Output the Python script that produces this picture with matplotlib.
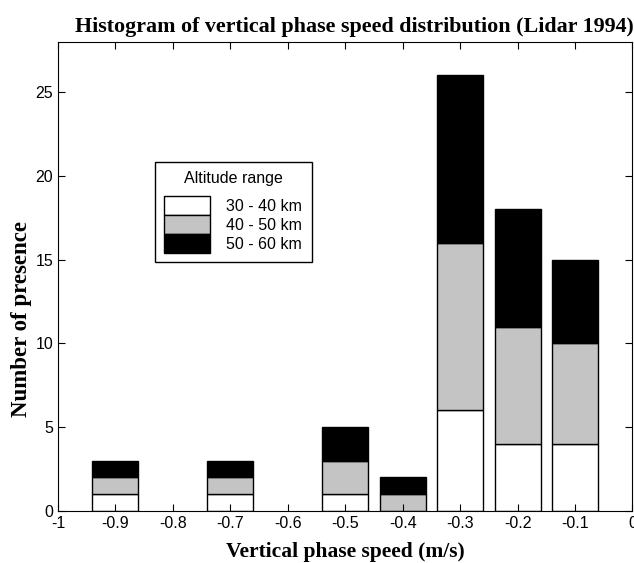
import matplotlib.pyplot as plt
from matplotlib.patches import Patch

speeds = [-0.9, -0.7, -0.5, -0.4, -0.3, -0.2, -0.1]
low = [1, 1, 1, 0, 6, 4, 4]      # 30 - 40 km
mid = [1, 1, 2, 1, 10, 7, 6]     # 40 - 50 km
high = [1, 1, 2, 1, 10, 7, 5]    # 50 - 60 km
labels = ['30 - 40 km', '40 - 50 km', '50 - 60 km']
colors = ['white', '#c4c4c4', 'black']

serif = 'Liberation Serif'
sans = 'Liberation Sans'

fig = plt.figure(figsize=(6.34, 5.63), dpi=100)
ax = fig.add_axes([0.0915, 0.0924, 0.906, 0.833])

bottom2 = [a + b for a, b in zip(low, mid)]
ax.bar(speeds, low, width=0.08, color=colors[0], edgecolor='black', linewidth=1)
ax.bar(speeds, mid, width=0.08, bottom=low, color=colors[1], edgecolor='black', linewidth=1)
ax.bar(speeds, high, width=0.08, bottom=bottom2, color=colors[2], edgecolor='black', linewidth=1)

ax.set_xlim(-1, 0)
ax.set_ylim(0, 28)
ax.set_xticks([-1, -0.9, -0.8, -0.7, -0.6, -0.5, -0.4, -0.3, -0.2, -0.1, 0])
ax.set_xticklabels(['-1', '-0.9', '-0.8', '-0.7', '-0.6', '-0.5', '-0.4', '-0.3', '-0.2', '-0.1', '0'])
ax.set_yticks([0, 5, 10, 15, 20, 25])
ax.tick_params(direction='in', top=True, right=True, length=5, labelsize=11.5)
for t in ax.get_xticklabels() + ax.get_yticklabels():
    t.set_fontfamily(sans)

ax.set_title('Histogram of vertical phase speed distribution (Lidar 1994)',
             fontfamily=serif, fontweight='bold', fontsize=15.8, pad=7, x=0.516)
ax.set_xlabel('Vertical phase speed (m/s)', fontfamily=serif, fontweight='bold', fontsize=15.5, labelpad=8)
ax.set_ylabel('Number of presence', fontfamily=serif, fontweight='bold', fontsize=16.5)
ax.yaxis.set_label_coords(-0.045, 0.41)

handles = [Patch(facecolor=c, edgecolor='black', linewidth=1) for c in colors]
leg = ax.legend(handles, labels, title='Altitude range', loc='upper left',
                bbox_to_anchor=(0.168, 0.745), borderaxespad=0, fancybox=False, framealpha=1,
                edgecolor='black', labelspacing=0, handlelength=2.9, handleheight=1.45,
                handletextpad=1.0, borderpad=0.6,
                prop={'family': sans, 'size': 11.5},
                title_fontproperties={'family': sans, 'size': 11.5})
leg.get_frame().set_linewidth(1)
leg._legend_box.sep = 7

fig.savefig('out.png', dpi=100)
